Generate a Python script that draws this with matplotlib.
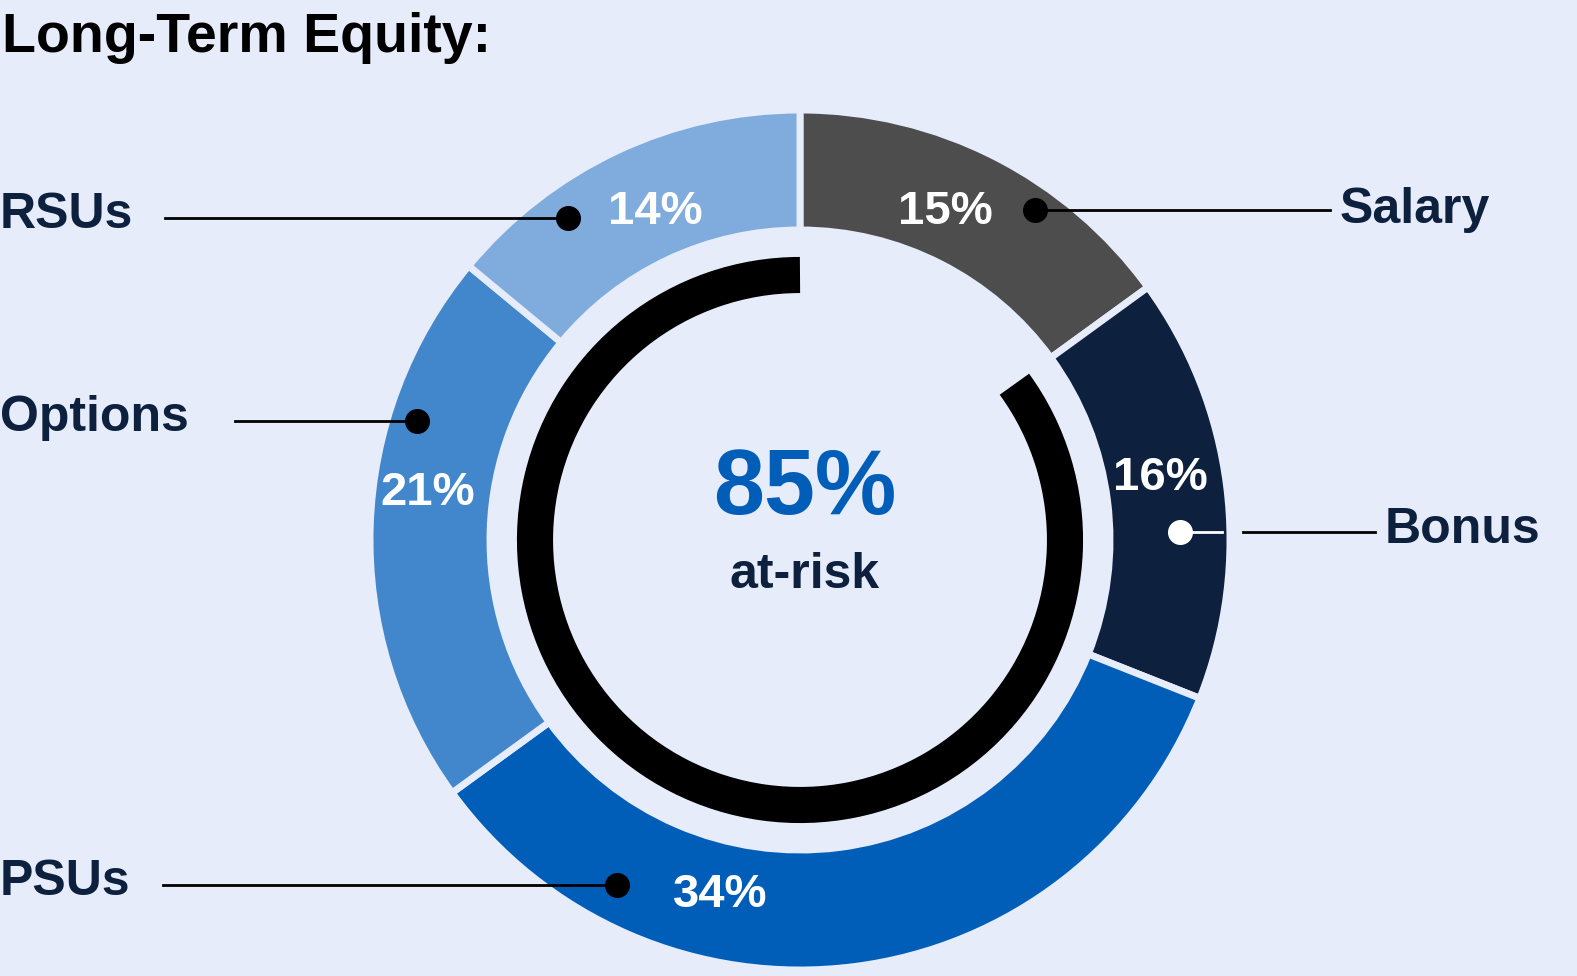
import matplotlib.pyplot as plt
from matplotlib.patches import Wedge, Arc

plt.rcParams['font.family'] = ['Liberation Sans', 'DejaVu Sans']

labels = ["Salary", "Bonus", "PSUs", "Options", "RSUs"]
shares = [15, 16, 34, 21, 14]
colors = ["#4d4d4d", "#0d203d", "#005eb8", "#4286cc", "#80acdd"]
at_risk = 85

# percent label positions, leader dots and label anchors (pixel coords, y down)
pct_pos = [(945, 212), (1160, 478), (720, 895), (428, 493), (655, 212)]
dot_pos = [(1035, 210), (1180, 532), (617, 885), (417, 421), (568, 218)]
name_pos = [(1340, 210), (1385, 530), (0, 882), (0, 418), (0, 215)]
line_x = [(1035, 1330), (1243, 1375), (163, 617), (235, 417), (165, 568)]

bg = "#e6ecfa"
W, H = 1577, 976
fig = plt.figure(figsize=(W / 100, H / 100), dpi=100, facecolor=bg)
ax = fig.add_axes([0, 0, 1, 1])
ax.set_xlim(0, W)
ax.set_ylim(H, 0)
ax.axis("off")
ax.set_facecolor(bg)

cx, cy = 800, 540
r_out, width = 430, 120

# clockwise from top; with y-axis inverted, angles increase clockwise on screen
start = -90
for s, c in zip(shares, colors):
    sweep = s * 3.6
    ax.add_patch(Wedge((cx, cy), r_out, start, start + sweep, width=width,
                       facecolor=c, edgecolor=bg, linewidth=5))
    start += sweep

# at-risk arc: everything except salary
arc_start = -90 + shares[0] * 3.6
ax.add_patch(Arc((cx, cy), 2 * 265, 2 * 265, theta1=arc_start,
                 theta2=arc_start + at_risk * 3.6, color="black", linewidth=26))

ax.text(cx + 5, 490, f"{at_risk}%", ha="center", va="center", fontsize=66,
        fontweight="bold", color="#005eb8")
ax.text(cx + 5, 575, "at-risk", ha="center", va="center", fontsize=36,
        fontweight="bold", color="#0d203d")

for i, name in enumerate(labels):
    px, py = pct_pos[i]
    ax.text(px, py, f"{shares[i]}%", ha="center", va="center", fontsize=34,
            fontweight="bold", color="white")
    dx, dy = dot_pos[i]
    dot_c = "white" if name == "Bonus" else "black"
    ax.plot([line_x[i][0], line_x[i][1]], [dy, dy], color="black", lw=2, zorder=3)
    if name == "Bonus":
        ax.plot([dx, 1222], [dy, dy], color="white", lw=2, zorder=3)
    ax.plot(dx, dy, "o", ms=17, color=dot_c, zorder=4)
    nx, ny = name_pos[i]
    ax.text(nx, ny, name, ha="left", va="center", fontsize=36,
            fontweight="bold", color="#0d203d")

ax.text(2, 38, "Long-Term Equity:", ha="left", va="center", fontsize=40,
        fontweight="bold", color="black")

fig.savefig("out.png", dpi=100, facecolor=bg)
